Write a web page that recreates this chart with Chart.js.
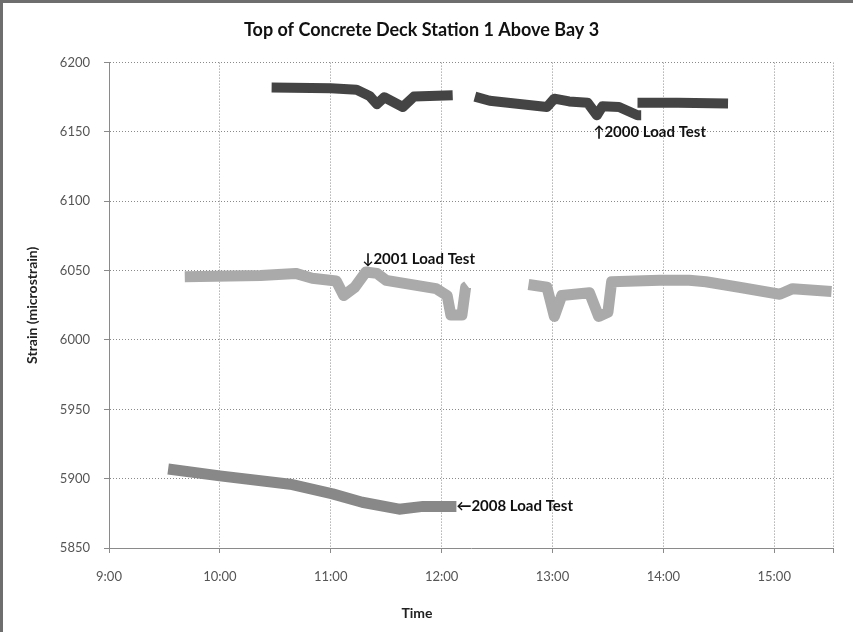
<!DOCTYPE html>
<html>
<head>
<meta charset="utf-8">
<script src="https://cdn.jsdelivr.net/npm/chart.js@4"></script>
<style>
  html, body { margin: 0; padding: 0; background: #fff; }
  #wrap { position: relative; width: 853px; height: 632px; }
  #frame { position: absolute; left: 0; top: 0; width: 850px; height: 629px;
           border-left: 3px solid #6e6e6e; border-top: 3px solid #6e6e6e; pointer-events: none; }
</style>
</head>
<body>
<div id="wrap">
  <canvas id="grafico" width="853" height="632"></canvas>
  <div id="frame"></div>
</div>
<script>
// 2000 load test (three pieces)
const tempos2000a = ['10:28', '11:00', '11:14', '11:21', '11:25', '11:29', '11:39', '11:45', '12:06'];
const valores2000a = [6182, 6181.5, 6180.5, 6176, 6170, 6175, 6168, 6175.5, 6176.5];
const tempos2000b = ['12:18', '12:26', '12:57', '13:01', '13:09', '13:19', '13:24', '13:27', '13:36', '13:46', '13:48'];
const valores2000b = [6175.5, 6172.5, 6168, 6174, 6172, 6171, 6162, 6168.5, 6168, 6162, 6162];
const tempos2000c = ['13:46', '14:08', '14:35'];
const valores2000c = [6171, 6171, 6170.5];

// 2001 load test (two pieces)
const tempos2001a = ['9:41', '10:22', '10:41', '10:50', '11:03', '11:07', '11:13', '11:19', '11:25', '11:30', '11:39', '11:57', '12:03', '12:05', '12:11', '12:13', '12:14'];
const valores2001a = [6045.5, 6046.5, 6048, 6044.5, 6042.5, 6032, 6038, 6049, 6048, 6043, 6041, 6037, 6032, 6018, 6018, 6038, 6039];
const tempos2001b = ['12:47', '12:57', '13:01', '13:05', '13:20', '13:25', '13:30', '13:32', '13:58', '14:14', '14:23', '14:41', '15:03', '15:10', '15:31'];
const valores2001b = [6040, 6038, 6017, 6032, 6034, 6017, 6020, 6042, 6043, 6043, 6042, 6038, 6033, 6037, 6035];

// 2008 load test
const tempos2008 = ['9:32', '10:00', '10:38', '11:01', '11:17', '11:37', '11:50', '12:08'];
const valores2008 = [5907, 5902, 5896, 5889, 5883, 5878, 5880, 5880];

// labels on the plot
const rotulosTexto = ['\u21912000 Load Test', '\u21932001 Load Test', '\u21902008 Load Test'];
const rotulosTempo = ['13:22', '11:17', '12:08'];
const rotulosValor = [6150, 6058, 5880];

const horasTicks = [9, 10, 11, 12, 13, 14, 15];

function paraHoras(t) {
    const [h, m] = t.split(':').map(Number);
    return h + m / 60;
}

function montarPontos(pedacos) {
    const pontos = [];
    pedacos.forEach(([tempos, valores], i) => {
        if (i > 0) pontos.push({ x: paraHoras(tempos[0]), y: null });
        tempos.forEach((t, j) => pontos.push({ x: paraHoras(t), y: valores[j] }));
    });
    return pontos;
}

const fonte = 'Lato, "Open Sans", "DejaVu Sans", sans-serif';

const pluginRotulos = {
    id: 'rotulos',
    afterDatasetsDraw(chart) {
        const { ctx, scales: { x, y } } = chart;
        ctx.save();
        ctx.font = 'bold 15px ' + fonte;
        ctx.fillStyle = '#111';
        ctx.textBaseline = 'middle';
        ctx.textAlign = 'left';
        rotulosTexto.forEach((txt, i) => {
            ctx.fillText(txt, x.getPixelForValue(paraHoras(rotulosTempo[i])), y.getPixelForValue(rotulosValor[i]));
        });
        // titulo do eixo x, um pouco a esquerda do centro como no original
        ctx.font = 'bold 14px ' + fonte;
        ctx.fillStyle = '#222';
        ctx.textAlign = 'center';
        ctx.fillText('Time', 417, 613);
        ctx.restore();
    }
};

const estiloLinha = {
    borderWidth: 10,
    pointRadius: 0,
    tension: 0,
    spanGaps: false,
    borderJoinStyle: 'round',
    borderCapStyle: 'butt',
    fill: false
};

new Chart(document.getElementById('grafico').getContext('2d'), {
    type: 'line',
    data: {
        datasets: [
            Object.assign({ label: '2000', data: montarPontos([[tempos2000a, valores2000a], [tempos2000b, valores2000b], [tempos2000c, valores2000c]]), borderColor: '#444444' }, estiloLinha),
            Object.assign({ label: '2001', data: montarPontos([[tempos2001a, valores2001a], [tempos2001b, valores2001b]]), borderColor: '#aaaaaa' }, estiloLinha, { borderWidth: 11 }),
            Object.assign({ label: '2008', data: montarPontos([[tempos2008, valores2008]]), borderColor: '#888888' }, estiloLinha, { borderWidth: 11 })
        ]
    },
    options: {
        responsive: false,
        animation: false,
        layout: { padding: { left: 10, right: 20, top: 0, bottom: 0 } },
        plugins: {
            legend: { display: false },
            tooltip: { enabled: false },
            title: {
                display: true,
                text: 'Top of Concrete Deck Station 1 Above Bay 3',
                color: '#111',
                font: { family: fonte, size: 18, weight: 'bold' },
                padding: { top: 19, bottom: 22 }
            }
        },
        scales: {
            x: {
                type: 'linear',
                min: 9,
                max: 15.53,
                afterFit(s) { s.height = 84; },
                afterBuildTicks(s) {
                    s.ticks = horasTicks.map(v => ({ value: v })).concat([{ value: 15.53 }]);
                },
                ticks: {
                    autoSkip: false,
                    maxRotation: 0,
                    padding: 16,
                    color: '#555',
                    font: { family: fonte, size: 13 },
                    callback: v => Number.isInteger(v) ? v + ':00' : ''
                },
                grid: { color: '#8a8a8a', tickLength: 5, lineWidth: 1 },
                border: { color: '#8a8a8a', dash: [1, 2] }
            },
            y: {
                min: 5850,
                max: 6200,
                afterFit(s) { s.width = 99; },
                ticks: {
                    stepSize: 50,
                    padding: 14,
                    color: '#555',
                    font: { family: fonte, size: 13 },
                    callback: v => String(v)
                },
                grid: { color: '#8a8a8a', tickLength: 5, lineWidth: 1 },
                border: { color: '#8a8a8a', dash: [1, 2] },
                title: {
                    display: true,
                    text: 'Strain (microstrain)',
                    color: '#222',
                    font: { family: fonte, size: 14, weight: 'bold' },
                    padding: { top: 14, bottom: 0 }
                }
            }
        }
    },
    plugins: [pluginRotulos]
});
</script>
</body>
</html>
